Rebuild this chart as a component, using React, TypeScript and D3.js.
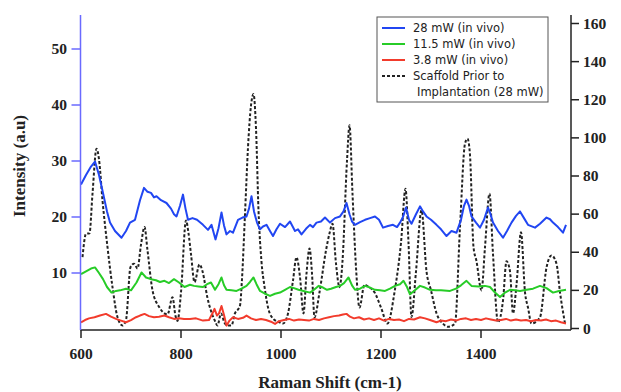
import React from "react";
import * as d3 from "d3";

// Raman spectra: in vivo (left axis) and scaffold before implantation (right axis)
const shift28: number[] = [600, 610, 620, 628, 636, 644, 652, 658, 668, 681, 690, 698, 708, 718, 726, 733, 740, 746, 751, 760, 771, 780, 786, 791, 798, 804, 809, 814, 823, 832, 844, 854, 861, 869, 875, 881, 886, 891, 898, 904, 914, 923, 931, 936, 941, 946, 952, 958, 964, 971, 978, 984, 991, 998, 1008, 1018, 1028, 1034, 1041, 1050, 1058, 1064, 1071, 1080, 1088, 1098, 1108, 1118, 1125, 1131, 1137, 1142, 1148, 1158, 1168, 1178, 1188, 1196, 1204, 1214, 1224, 1232, 1238, 1244, 1250, 1256, 1261, 1270, 1278, 1284, 1291, 1300, 1311, 1320, 1331, 1341, 1351, 1360, 1366, 1371, 1376, 1381, 1390, 1398, 1406, 1414, 1419, 1424, 1434, 1444, 1452, 1461, 1470, 1478, 1486, 1494, 1508, 1518, 1531, 1538, 1544, 1554, 1564, 1570];
const int28: number[] = [25.8, 27.5, 29, 29.9, 27.5, 24.3, 21, 19, 17.5, 16.3, 17.5, 19, 19.5, 23, 25.2, 24.5, 24.3, 23.5, 23.7, 23, 22.5, 21.5, 20.5, 20.1, 22, 24, 21.5, 19.5, 19.8, 19.5, 18.6, 17.7, 18.6, 16, 18, 20.8, 18.5, 16.9, 17.5, 17.2, 19.5, 19.9, 20.1, 21.5, 23.7, 21, 19, 17.8, 18.3, 18.6, 17.5, 16.6, 17.8, 18.8, 18.2, 19.2, 17.5, 17.8, 16.9, 17.9, 18.6, 18.2, 19, 19.2, 19.9, 19, 19.8, 20.1, 21, 22.5, 20.5, 19.2, 18.6, 19.1, 19.5, 19.8, 20.1, 19.5, 18.1, 18.4, 18.6, 18.2, 19, 20, 21.7, 19.5, 18.8, 20.5, 21.9, 21, 20.1, 19.5, 18.6, 17.8, 16.6, 17.5, 17.2, 19.5, 22, 23.1, 22, 20.1, 19, 18.1, 19.5, 21.7, 20.5, 19, 17.5, 16.3, 17.5, 19, 20.2, 21, 19.8, 18.6, 18.1, 18.8, 19.9, 19.6, 19, 18.2, 17.2, 18.6];

const shift11: number[] = [600, 610, 620, 628, 636, 644, 652, 661, 670, 678, 690, 700, 711, 716, 721, 730, 740, 750, 758, 767, 776, 786, 796, 807, 818, 826, 835, 844, 852, 860, 868, 875, 881, 886, 891, 901, 911, 921, 931, 938, 945, 951, 958, 968, 978, 988, 998, 1008, 1018, 1026, 1035, 1045, 1058, 1066, 1075, 1084, 1092, 1100, 1110, 1118, 1126, 1135, 1142, 1148, 1158, 1168, 1178, 1188, 1198, 1208, 1218, 1228, 1238, 1245, 1252, 1258, 1266, 1278, 1288, 1298, 1310, 1320, 1338, 1350, 1360, 1371, 1381, 1395, 1408, 1418, 1428, 1438, 1448, 1458, 1468, 1478, 1491, 1504, 1518, 1531, 1544, 1556, 1570];
const int11: number[] = [9.8, 10.3, 10.8, 11, 10, 8.9, 7.5, 6.5, 6.8, 6.9, 7.2, 6.9, 8.3, 9.2, 10.1, 9.2, 8.9, 8.7, 8.4, 8.6, 8.2, 8.9, 8.3, 7.5, 7.9, 7.7, 7.6, 7.5, 8, 8.3, 7, 8, 9.2, 7.8, 7, 6.9, 6.8, 7.2, 7.7, 8.4, 9.2, 8, 6.8, 6.3, 5.9, 6.3, 6.5, 7, 7.5, 7.3, 7, 6.8, 6.5, 7, 7.7, 7.4, 7, 7.2, 7.5, 7.7, 8.2, 9.2, 7.8, 7, 7.2, 7.7, 7.4, 7, 6.9, 6.8, 7.2, 7.7, 8, 8.6, 7.5, 6.2, 6.8, 7.7, 7.4, 7, 6.9, 6.9, 6.8, 7.2, 7.8, 8.6, 7.7, 7.6, 7.7, 7.5, 6.5, 5.7, 6.5, 7, 6.9, 6.8, 7, 7.2, 7.7, 7.3, 6.5, 6.8, 7];

const shift3: number[] = [600, 608, 616, 627, 638, 650, 660, 670, 680, 690, 700, 710, 718, 727, 736, 746, 756, 767, 776, 786, 796, 806, 818, 830, 844, 856, 863, 867, 872, 876, 881, 886, 891, 897, 904, 914, 924, 931, 940, 950, 960, 970, 980, 988, 996, 1006, 1016, 1026, 1036, 1046, 1056, 1066, 1076, 1086, 1096, 1106, 1116, 1124, 1131, 1138, 1146, 1156, 1166, 1176, 1186, 1196, 1206, 1216, 1226, 1236, 1246, 1256, 1266, 1278, 1288, 1298, 1311, 1320, 1330, 1340, 1350, 1360, 1370, 1380, 1390, 1400, 1410, 1420, 1430, 1440, 1450, 1460, 1470, 1480, 1490, 1500, 1510, 1520, 1530, 1540, 1550, 1560, 1570];
const int3: number[] = [1.2, 1.6, 1.9, 2.1, 2.4, 2.7, 2.2, 1.8, 1.5, 1.2, 1.6, 2.1, 2.4, 2.7, 2.3, 2.1, 2.2, 2.4, 2.1, 1.8, 1.9, 1.8, 1.8, 1.9, 1.5, 1.6, 2.8, 3.6, 2.4, 2.8, 4.1, 2.5, 0.6, 1.5, 2.1, 1.8, 2, 2.4, 1.9, 1.6, 1.8, 1.6, 1.3, 0.9, 1.4, 1.6, 1.8, 1.5, 1.7, 1.6, 1.5, 1.8, 1.6, 1.9, 2.1, 2.3, 2.4, 2.6, 2.7, 2.2, 1.9, 2.1, 1.7, 1.9, 1.6, 1.9, 1.5, 1.8, 1.6, 1.7, 1.4, 1.8, 1.7, 2.1, 1.9, 1.6, 1.2, 1.5, 1.4, 1.7, 1.5, 1.8, 1.9, 1.6, 1.8, 1.6, 1.9, 1.7, 1.5, 1.6, 1.8, 1.5, 1.7, 1.5, 1.6, 1.4, 1.6, 1.5, 1.7, 1.4, 1.5, 1.2, 1.0];

const shiftScaffold: number[] = [603, 610, 617, 623, 631, 636, 643, 653, 663, 673, 683, 690, 699, 706, 713, 720, 727, 733, 743, 757, 773, 783, 789, 793, 800, 810, 815, 820, 827, 837, 843, 853, 867, 873, 880, 887, 893, 901, 908, 914, 918, 922, 928, 934, 940, 945, 950, 955, 961, 967, 975, 985, 995, 1004, 1014, 1024, 1031, 1038, 1045, 1051, 1057, 1062, 1067, 1077, 1090, 1097, 1103, 1110, 1117, 1123, 1132, 1137, 1143, 1150, 1157, 1167, 1176, 1187, 1200, 1213, 1227, 1240, 1249, 1255, 1261, 1270, 1281, 1291, 1300, 1311, 1324, 1334, 1348, 1358, 1368, 1373, 1378, 1385, 1391, 1401, 1408, 1417, 1424, 1434, 1444, 1451, 1458, 1464, 1471, 1480, 1488, 1494, 1501, 1518, 1531, 1541, 1551, 1558, 1568];
const intScaffold: number[] = [37.4, 49.7, 50, 70.7, 94.3, 88.8, 67.2, 42.7, 21.7, 5.9, 1.6, 4.5, 32.2, 34, 31.5, 44, 53.2, 41, 20, 11, 7.4, 16.4, 6.5, 4, 19, 56.7, 50, 39, 24.3, 33.6, 30, 16, 4.5, 1.6, 7.9, 3, 1.6, 1.6, 8, 10, 12, 26, 60, 95, 117, 123, 105, 62, 35, 22, 10, 5, 3.5, 2.6, 7.9, 25.2, 37.4, 27, 7.9, 28.8, 42, 28.8, 5.9, 19, 41, 49.9, 55, 34, 21.7, 35.3, 88, 106.6, 70.7, 32, 11, 23, 21.7, 19, 11, 2.6, 19, 45, 73.3, 45, 6, 30, 62, 30, 20, 8, 2.6, 0.9, 2.6, 53.2, 97, 99.6, 91, 42.7, 35.3, 20, 42.7, 70.7, 39, 3.3, 14.7, 35.3, 30, 7.9, 23, 50.5, 19, 11, 2.6, 5.9, 32, 38.3, 34, 19, 2.6];

const leftTicks: number[] = [10, 20, 30, 40, 50];
const rightTicks: number[] = [0, 20, 40, 60, 80, 100, 120, 140, 160];
const bottomTicks: number[] = [600, 800, 1000, 1200, 1400];

const legendLabels: string[] = ["28 mW (in vivo)", "11.5 mW (in vivo)", "3.8 mW (in vivo)", "Scaffold Prior to", "Implantation (28 mW)"];

const W = 621;
const H = 392;
const left = 80.5;
const right = 571;
const top = 15;
const base = 330;

const BLUE = "#2146f2";
const GREEN = "#27cc27";
const RED = "#f23b2c";
const AXIS_BLUE = "#6a6aff";

const x = d3.scaleLinear().domain([599, 1580]).range([left, right]);
const yL = d3.scaleLinear().domain([0, 50]).range([329, 49]);
const yR = d3.scaleLinear().domain([0, 160]).range([328.5, 23.5]);

type Pt = [number, number];
const zip = (a: number[], b: number[]): Pt[] => a.map((v, i) => [v, b[i]]);

const lineL = d3.line<Pt>().x((d) => x(d[0])).y((d) => yL(d[1]));
const lineR = d3
  .line<Pt>()
  .x((d) => x(d[0]))
  .y((d) => yR(d[1]))
  .curve(d3.curveMonotoneX);

const serif = "'Liberation Serif', 'Times New Roman', serif";
const sans = "'DejaVu Sans', 'Open Sans', sans-serif";

export default function App() {
  const legendColors = [BLUE, GREEN, RED];
  const rowY = [28, 44, 60, 76, 92];
  return (
    <svg
      width={W}
      height={H}
      style={{ position: "absolute", left: 0, top: 0, background: "#fff" }}
    >
      {/* data */}
      <path d={lineR(zip(shiftScaffold, intScaffold)) || ""} fill="none" stroke="#222" strokeWidth={2} strokeDasharray="3,2" />
      <path d={lineL(zip(shift28, int28)) || ""} fill="none" stroke={BLUE} strokeWidth={2} strokeLinejoin="round" />
      <path d={lineL(zip(shift11, int11)) || ""} fill="none" stroke={GREEN} strokeWidth={2} strokeLinejoin="round" />
      <path d={lineL(zip(shift3, int3)) || ""} fill="none" stroke={RED} strokeWidth={2} strokeLinejoin="round" />

      {/* bottom axis */}
      <line x1={left} x2={right} y1={base} y2={base} stroke="#222" strokeWidth={1.5} />
      {bottomTicks.map((t) => (
        <g key={t}>
          <line x1={x(t)} x2={x(t)} y1={base} y2={base + 8} stroke="#222" strokeWidth={1.5} />
          <text x={x(t)} y={359} textAnchor="middle" fontFamily={serif} fontWeight="bold" fontSize={15.5} fill="#222">
            {t}
          </text>
        </g>
      ))}
      <text x={330} y={388} textAnchor="middle" fontFamily={serif} fontWeight="bold" fontSize={17} fill="#222">
        Raman Shift (cm-1)
      </text>

      {/* left axis */}
      <line x1={left} x2={left} y1={top} y2={base} stroke={AXIS_BLUE} strokeWidth={1.5} />
      {leftTicks.map((t) => (
        <g key={t}>
          <line x1={left - 9} x2={left} y1={yL(t)} y2={yL(t)} stroke={AXIS_BLUE} strokeWidth={1.5} />
          <text x={67} y={yL(t) + 5} textAnchor="end" fontFamily={serif} fontWeight="bold" fontSize={15.5} fill="#222">
            {t}
          </text>
        </g>
      ))}
      <text
        transform={`translate(25,166) rotate(-90)`}
        textAnchor="middle"
        fontFamily={serif}
        fontWeight="bold"
        fontSize={17}
        fill="#222"
      >
        Intensity (a.u)
      </text>

      {/* right axis */}
      <line x1={right} x2={right} y1={top} y2={base} stroke="#222" strokeWidth={1.5} />
      {rightTicks.map((t) => (
        <g key={t}>
          <line x1={right} x2={right + 8} y1={yR(t)} y2={yR(t)} stroke="#222" strokeWidth={1.5} />
          <text x={583} y={yR(t) + 5} textAnchor="start" fontFamily={serif} fontWeight="bold" fontSize={15.5} fill="#222">
            {t}
          </text>
        </g>
      ))}

      {/* legend */}
      <rect x={377} y={17} width={171} height={85} fill="#fff" stroke="#555" strokeWidth={1} />
      {legendColors.map((c, i) => (
        <line key={c} x1={382} x2={405} y1={rowY[i]} y2={rowY[i]} stroke={c} strokeWidth={2} />
      ))}
      <line x1={382} x2={405} y1={rowY[3]} y2={rowY[3]} stroke="#222" strokeWidth={2} strokeDasharray="3,2" />
      {legendLabels.map((l, i) => (
        <text key={l} x={i === 4 ? 417 : 413} y={rowY[i] + 4} fontFamily={sans} fontSize={11.5} fill="#222">
          {l}
        </text>
      ))}
    </svg>
  );
}
